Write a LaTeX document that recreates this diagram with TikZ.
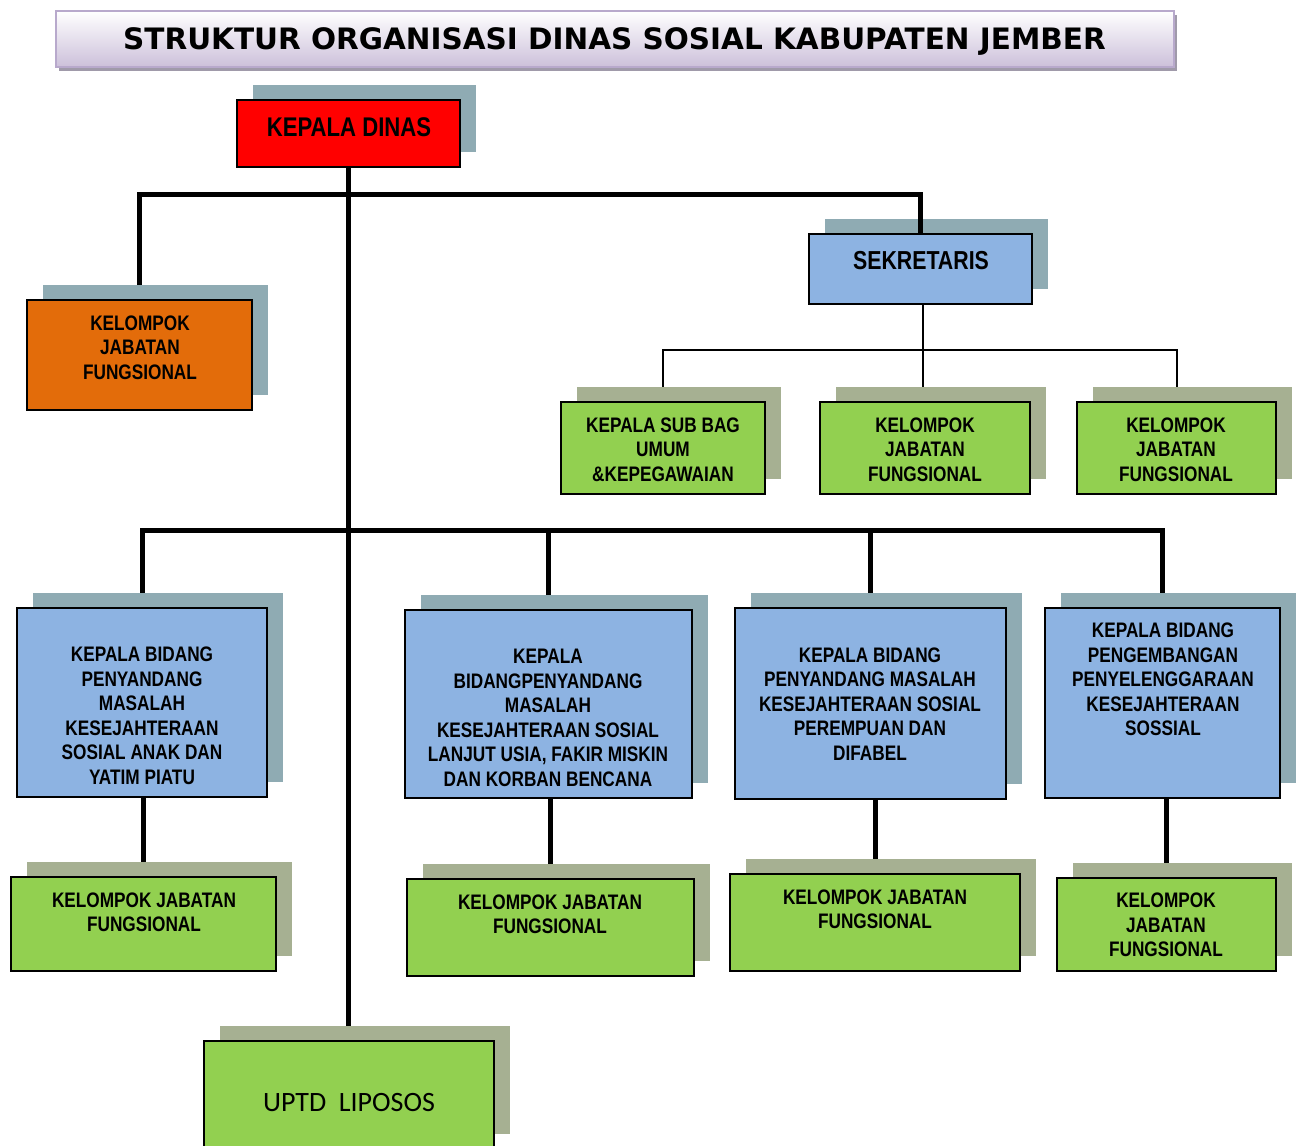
\documentclass[tikz,border=0pt]{standalone}
\usepackage{fontspec}
\usetikzlibrary{shadows,calc}
\newfontfamily\nbfont[FakeStretch=0.82]{Liberation Sans}
\newfontfamily\ttlfont{DejaVu Sans}
\newfontfamily\calfont{Carlito}
\definecolor{kdred}{HTML}{FF0000}
\definecolor{boxorange}{HTML}{E36C0A}
\definecolor{boxblue}{HTML}{8DB3E2}
\definecolor{boxgreen}{HTML}{92D050}
\definecolor{shblue}{HTML}{8FABB3}
\definecolor{shgreen}{HTML}{A6B092}
\definecolor{ttlbot}{HTML}{CCC0DA}
\definecolor{ttlborder}{HTML}{B8A9CC}
\definecolor{ttlshadow}{HTML}{A09AAA}
\pgfdeclarelayer{bglayer}
\pgfdeclarelayer{connlayer}
\pgfsetlayers{bglayer,connlayer,main}
\begin{document}
\begin{tikzpicture}[x=1pt,y=-1pt,
  every node/.style={inner sep=0pt, outer sep=0pt},
  box/.style={draw=black, line width=2.6pt, rectangle},
  bshadow/.style={general shadow={fill=shblue, shadow xshift=16pt, shadow yshift=15pt}},
  gshadow/.style={general shadow={fill=shgreen, shadow xshift=16pt, shadow yshift=15pt}},
  bluebox/.style={box, fill=boxblue, bshadow},
  greenbox/.style={box, fill=boxgreen, gshadow},
  lbl/.style={align=center, font=\nbfont\bfseries\fontsize{21}{24.5}\selectfont},
  trunk/.style={draw=black, line width=5pt},
  thinline/.style={draw=black, line width=2pt},
]
\useasboundingbox (0,0) rectangle (1299,1146);
\begin{pgfonlayer}{bglayer}
\fill[white] (0,0) rectangle (1299,1146);
\end{pgfonlayer}
\clip (0,0) rectangle (1299,1146);

% title
\node[draw=ttlborder, line width=2pt, top color=white, bottom color=ttlbot,
      minimum width=1118, minimum height=56,
      general shadow={fill=ttlshadow, shadow xshift=3pt, shadow yshift=-4pt}] (title) at (615,39) {};
\node[font=\ttlfont\bfseries\fontsize{29.5}{32}\selectfont] (titletext) at (614.5,42)
  {STRUKTUR ORGANISASI DINAS SOSIAL KABUPATEN JEMBER};

% boxes
\path
 (348.5,133.5) node[box, fill=kdred, bshadow, minimum width=223, minimum height=67] (kd) {}
 (139.5,355) node[box, fill=boxorange, bshadow, minimum width=225, minimum height=110] (kjf) {}
 (920.5,269) node[bluebox, minimum width=223, minimum height=70] (sek) {}
 (663,448) node[greenbox, minimum width=204, minimum height=92] (k1) {}
 (925,448) node[greenbox, minimum width=210, minimum height=92] (k2) {}
 (1176.5,448) node[greenbox, minimum width=199, minimum height=92] (k3) {}
 (142,702.5) node[bluebox, minimum width=250, minimum height=189] (b1) {}
 (548.5,704) node[bluebox, minimum width=287, minimum height=188] (b2) {}
 (870.5,703.5) node[bluebox, minimum width=271, minimum height=191] (b3) {}
 (1162.5,703) node[bluebox, minimum width=235, minimum height=190] (b4) {}
 (143.5,924) node[greenbox, minimum width=265, minimum height=94] (g1) {}
 (550.5,927.5) node[greenbox, minimum width=287, minimum height=97] (g2) {}
 (875,922.5) node[greenbox, minimum width=290, minimum height=97] (g3) {}
 (1166.5,924.5) node[greenbox, minimum width=219, minimum height=93] (g4) {}
 (349,1095) node[greenbox, minimum width=290, minimum height=108] (uptd) {};

% connectors (under the boxes)
\coordinate (t1) at (350,194);
\coordinate (t2) at (350,530);
\coordinate (s1) at (923,350);
\begin{pgfonlayer}{connlayer}
\draw[trunk] (kd.south) -- (kd.south |- uptd.north);
\draw[trunk] (t1) -| (kjf.north);
\draw[trunk] (t2) -| (b1.north);
\draw[trunk] (t2) -| (b2.north);
\draw[trunk] (t2) -| (b3.north);
\draw[trunk] (t2) -| (b4.north);
\draw[trunk] (b1.south -| g1.north) -- (g1.north);
\draw[trunk] (b2.south -| g2.north) -- (g2.north);
\draw[trunk] (b3.south -| g3.north) -- (g3.north);
\draw[trunk] (b4.south -| g4.north) -- (g4.north);
\draw[thinline] (sek.south -| s1) -- (s1 |- k2.north);
\draw[thinline] (k1.north) |- (s1) -| (k3.north);
\end{pgfonlayer}

% Sekretaris connector shows through its shadow
\draw[trunk] (t1) -| (sek.north);

% labels
\node[font=\nbfont\bfseries\fontsize{27}{30}\selectfont] (kdt) at (349,127) {KEPALA DINAS};
\node[lbl] (kjft) at (140,347.5) {KELOMPOK\\JABATAN\\FUNGSIONAL};
\node[font=\nbfont\bfseries\fontsize{26}{30}\selectfont] (sekt) at (921,261) {SEKRETARIS};
\node[lbl] (k1t) at (663,449.5) {KEPALA SUB BAG\\UMUM\\\&KEPEGAWAIAN};
\node[lbl] (k2t) at (925,449.5) {KELOMPOK\\JABATAN\\FUNGSIONAL};
\node[lbl] (k3t) at (1176,449.5) {KELOMPOK\\JABATAN\\FUNGSIONAL};
\node[lbl] (b1t) at (142,716) {KEPALA BIDANG\\PENYANDANG\\MASALAH\\KESEJAHTERAAN\\SOSIAL ANAK DAN\\YATIM PIATU};
\node[lbl] (b2t) at (548,718) {KEPALA\\BIDANGPENYANDANG\\MASALAH\\KESEJAHTERAAN SOSIAL\\LANJUT USIA, FAKIR MISKIN\\DAN KORBAN BENCANA};
\node[lbl] (b3t) at (870,704) {KEPALA BIDANG\\PENYANDANG MASALAH\\KESEJAHTERAAN SOSIAL\\PEREMPUAN DAN\\DIFABEL};
\node[lbl] (b4t) at (1163,679.5) {KEPALA BIDANG\\PENGEMBANGAN\\PENYELENGGARAAN\\KESEJAHTERAAN\\SOSSIAL};
\node[lbl] (g1t) at (144,912.5) {KELOMPOK JABATAN\\FUNGSIONAL};
\node[lbl] (g2t) at (550,914.5) {KELOMPOK JABATAN\\FUNGSIONAL};
\node[lbl] (g3t) at (875,909.5) {KELOMPOK JABATAN\\FUNGSIONAL};
\node[lbl] (g4t) at (1166,925) {KELOMPOK\\JABATAN\\FUNGSIONAL};
\node[font=\calfont\fontsize{28}{30}\selectfont] (uptdt) at (349,1103) {UPTD\ \ LIPOSOS};
\end{tikzpicture}
\end{document}
